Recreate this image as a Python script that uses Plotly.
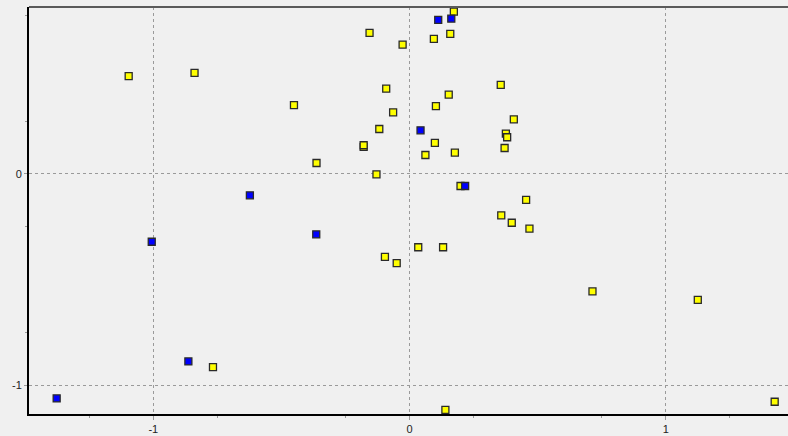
import plotly.graph_objects as go

# Scatter of two groups of observations on the first two score axes
yellow_x = [-1.096, -0.839, -0.156, -0.027, 0.095, 0.159, 0.173,
            -0.091, 0.153, 0.356, -0.064, 0.103, 0.407, -0.118,
            0.376, 0.381, -0.179, -0.179, 0.099, 0.371, 0.062, 0.177,
            -0.129, -0.363, -0.451, 0.199, 0.455, 0.358, 0.399, 0.468,
            0.034, 0.131, -0.096, -0.050, 0.714, 1.125, -0.767, 1.425,
            0.140]
yellow_y = [0.464, 0.479, 0.668, 0.613, 0.640, 0.664, 0.769,
            0.404, 0.376, 0.422, 0.292, 0.321, 0.259, 0.213,
            0.191, 0.174, 0.128, 0.136, 0.147, 0.123, 0.090, 0.101,
            -0.002, 0.052, 0.326, -0.057, -0.123, -0.196, -0.231, -0.259,
            -0.347, -0.347, -0.393, -0.422, -0.556, -0.596, -0.915, -1.079,
            -1.117]

blue_x = [0.112, 0.163, 0.043, 0.217, -0.623, -1.006, -0.364, -0.863, -1.377]
blue_y = [0.730, 0.736, 0.207, -0.057, -0.101, -0.321, -0.286, -0.888, -1.063]

x_ticks = [-1, 0, 1]
y_ticks = [-1, 0]

fig = go.Figure()
fig.add_trace(go.Scatter(
    x=yellow_x, y=yellow_y, mode="markers", cliponaxis=True,
    marker=dict(symbol="square", size=7, color="#ffff00",
                line=dict(color="#2a2a2a", width=1.3)),
    showlegend=False, hoverinfo="skip"))
fig.add_trace(go.Scatter(
    x=blue_x, y=blue_y, mode="markers", cliponaxis=True,
    marker=dict(symbol="square", size=7, color="#0000ff",
                line=dict(color="#2a2a2a", width=1.3)),
    showlegend=False, hoverinfo="skip"))

axis_font = dict(family="Liberation Sans, Arial, sans-serif", size=11, color="#222222")

fig.update_layout(
    width=788, height=436,
    margin=dict(l=29, r=0, t=7, b=22),
    paper_bgcolor="#f0f0f0", plot_bgcolor="#f0f0f0",
    xaxis=dict(range=[-1.485, 1.477], tickvals=x_ticks, ticktext=[str(v) for v in x_ticks],
               showgrid=True, gridcolor="#9a9a9a", griddash="3px,3px", gridwidth=1,
               zeroline=False, showline=True, linecolor="#000000", linewidth=2,
               ticks="outside", ticklen=4, tickcolor="#9a9a9a", tickfont=axis_font,
               minor=dict(tick0=0.25, dtick=0.5, ticks="outside", ticklen=2,
                          tickcolor="#9a9a9a", showgrid=False)),
    yaxis=dict(range=[-1.137, 0.791], tickvals=y_ticks, ticktext=[str(v) for v in y_ticks],
               showgrid=True, gridcolor="#9a9a9a", griddash="3px,3px", gridwidth=1,
               zeroline=False, showline=True, linecolor="#000000", linewidth=2,
               ticks="outside", ticklen=3, tickcolor="#9a9a9a", tickfont=axis_font,
               minor=dict(tick0=0.25, dtick=0.5, ticks="outside", ticklen=2,
                          tickcolor="#9a9a9a", showgrid=False)),
    shapes=[dict(type="line", xref="paper", yref="paper", x0=0, x1=1, y0=1, y1=1,
                 line=dict(color="#5a5a5a", width=2))],
)

fig.write_html("out.html")
